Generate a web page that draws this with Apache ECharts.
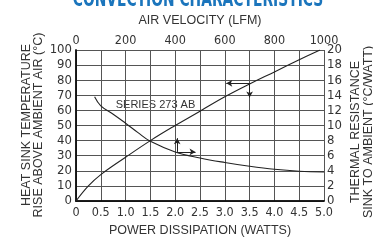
<!DOCTYPE html>
<html><head><meta charset="utf-8">
<script src="https://cdn.jsdelivr.net/npm/echarts@6/dist/echarts.min.js"></script>
<style>html,body{margin:0;padding:0;background:#fff}#c{width:373px;height:242px}</style>
</head><body><div id="c"></div>
<script>
// Curve 1: heat sink temperature rise vs power dissipation (bottom / left axes)
var power = [0, 0.25, 0.5, 1.0, 1.5, 2.0, 2.5, 3.0, 3.5, 4.0, 4.5, 4.92];
var tempRise = [0, 10, 17.5, 29, 40, 50, 59.5, 69, 77.5, 85.5, 93.5, 100];
// Curve 2: thermal resistance vs air velocity (top / right axes)
var airVelocity = [75, 100, 150, 200, 250, 300, 400, 500, 600, 700, 800, 900, 1000];
var resistance = [13.8, 12.6, 11.5, 10.3, 9.05, 7.9, 6.5, 5.7, 5.1, 4.6, 4.2, 3.95, 3.85];
// tick labels
var powerTicks = ['0','0.5','1.0','1.5','2.0','2.5','3.0','3.5','4.0','4.5','5.0'];
var velocityTicks = ['0','200','400','600','800','1000'];
var tempTicks = ['0','10','20','30','40','50','60','70','80','90','100'];
var resTicks = ['0','2','4','6','8','10','12','14','16','18','20'];
// arrow annotations (power, temp) pairs
var arrowLeftAxis = [[3.5, 77.9], [3.03, 77.9]];
var arrowDown = [[3.5, 77.9], [3.5, 68.6]];
var arrowUp = [[2.04, 32.5], [2.04, 41.6]];
var arrowRight = [[2.04, 32.5], [2.41, 32.5]];

var narrow = '"Liberation Sans Narrow","DejaVu Sans Condensed",sans-serif';
var reg = '"Liberation Sans",Arial,sans-serif';
var txt = '#333';
var chart = echarts.init(document.getElementById('c'), null, {renderer:'canvas'});
function zipPairs(a,b){return a.map(function(v,i){return [v,b[i]];});}
function arrow(p){return [{coord:p[0]},{coord:p[1]}];}
chart.setOption({
  animation:false,
  backgroundColor:'#fff',
  grid:{left:76, right:49, top:50, bottom:38},
  xAxis:[{
    type:'value', position:'bottom', min:0, max:5, interval:0.5,
    axisLine:{show:true, lineStyle:{color:'#111', width:1.5}},
    axisTick:{show:false},
    splitLine:{show:true, lineStyle:{color:'#555', width:1}},
    axisLabel:{margin:5, color:txt, fontFamily:narrow, fontSize:12.5,
      formatter:function(v){return powerTicks[Math.round(v/0.5)];}},
    name:'POWER DISSIPATION (WATTS)', nameLocation:'middle', nameGap:23,
    nameTextStyle:{color:txt, fontFamily:reg, fontSize:12.5}
  },{
    type:'value', position:'top', min:0, max:1000, interval:200,
    axisLine:{show:true, lineStyle:{color:'#111', width:1.5}},
    axisTick:{show:false},
    splitLine:{show:false},
    axisLabel:{margin:3, color:txt, fontFamily:narrow, fontSize:12.5,
      formatter:function(v){return velocityTicks[Math.round(v/200)];}},
    name:'AIR VELOCITY (LFM)', nameLocation:'middle', nameGap:23,
    nameTextStyle:{color:txt, fontFamily:reg, fontSize:12.5}
  }],
  yAxis:[{
    type:'value', position:'left', min:0, max:100, interval:10,
    axisLine:{show:true, lineStyle:{color:'#111', width:1.5}},
    axisTick:{show:false},
    splitLine:{show:true, lineStyle:{color:'#555', width:1}},
    axisLabel:{margin:4, color:txt, fontFamily:narrow, fontSize:13,
      formatter:function(v){return tempTicks[Math.round(v/10)];}}
  },{
    type:'value', position:'right', min:0, max:20, interval:2,
    axisLine:{show:true, lineStyle:{color:'#111', width:1.5}},
    axisTick:{show:false},
    splitLine:{show:false},
    axisLabel:{margin:3, color:txt, fontFamily:narrow, fontSize:13,
      formatter:function(v){return resTicks[Math.round(v/2)];}}
  }],
  series:[{
    type:'line', xAxisIndex:0, yAxisIndex:0, smooth:0.4, symbol:'none',
    lineStyle:{color:'#222', width:1.1},
    data: zipPairs(power, tempRise),
    markLine:{
      silent:true, symbol:['none','arrow'], symbolSize:[5,6],
      label:{show:false},
      lineStyle:{color:'#222', width:1, type:'solid'},
      data:[arrow(arrowLeftAxis), arrow(arrowDown), arrow(arrowUp), arrow(arrowRight)]
    }
  },{
    type:'line', xAxisIndex:1, yAxisIndex:1, smooth:0.4, symbol:'none',
    lineStyle:{color:'#222', width:1.1},
    data: zipPairs(airVelocity, resistance)
  }],
  graphic:[
    {type:'text', x:198, y:-11, scaleX:0.7, style:{text:'CONVECTION CHARACTERISTICS', fill:'#1b75bc',
      font:'bold 22px '+narrow, textAlign:'center', textVerticalAlign:'top'}, z:10, silent:true},
    {type:'text', x:155.5, y:105, style:{text:'SERIES 273 AB', fill:txt,
      font:'11px '+reg, textAlign:'center', textVerticalAlign:'middle'}, silent:true},
    {type:'text', x:33, y:125, rotation:Math.PI/2, style:{text:'HEAT SINK TEMPERATURE\nRISE ABOVE AMBIENT AIR (°C)', fill:txt,
      font:'12.5px '+reg, textAlign:'center', textVerticalAlign:'middle', lineHeight:12}, silent:true},
    {type:'text', x:362, y:132, rotation:Math.PI/2, style:{text:'THERMAL RESISTANCE\nSINK TO AMBIENT (°C/WATT)', fill:txt,
      font:'12.5px '+reg, textAlign:'center', textVerticalAlign:'middle', lineHeight:13}, silent:true}
  ]
});
</script></body></html>
